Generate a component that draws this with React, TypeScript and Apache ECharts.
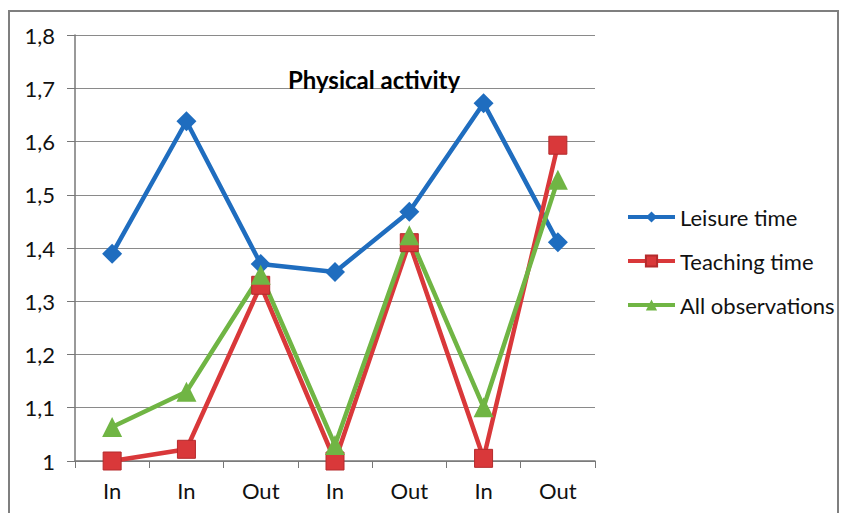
import React, { useEffect, useRef } from "react";
import * as echarts from "echarts";

const categories = ["In", "In", "Out", "In", "Out", "In", "Out"];
const leisureTime = [1.389, 1.638, 1.37, 1.355, 1.468, 1.672, 1.411];
const teachingTime = [1.0, 1.022, 1.33, 1.0, 1.41, 1.005, 1.593];
const allObservations = [1.064, 1.13, 1.35, 1.03, 1.424, 1.101, 1.528];
const seriesNames = ["Leisure time", "Teaching time", "All observations"];

export default function App() {
  const ref = useRef<HTMLDivElement>(null);
  useEffect(() => {
    document.body.style.margin = "0";
    const chart = echarts.init(ref.current!, null, { renderer: "svg" });
    const font = "Lato, 'Open Sans', sans-serif";
    chart.setOption({
      animation: false,
      backgroundColor: "#ffffff",
      title: {
        text: "Physical activity",
        left: 369,
        top: 62,
        textAlign: "center",
        textStyle: { fontFamily: font, fontSize: 24, fontWeight: "bold", color: "#000" },
      },
      graphic: [
        {
          type: "rect",
          shape: { x: 9, y: 11, width: 829, height: 520 },
          style: { fill: "none", stroke: "#7f7f7f", lineWidth: 2 },
          silent: true,
        },
      ],
      legend: {
        orient: "vertical",
        left: 621,
        top: 201,
        itemGap: 22,
        itemWidth: 47,
        itemHeight: 14,
        lineStyle: { width: 4 },
        textStyle: { fontFamily: font, fontSize: 22, color: "#111" },
        data: seriesNames,
      },
      grid: { left: 75, right: 248, top: 35, bottom: 52 },
      xAxis: {
        type: "category",
        data: categories,
        boundaryGap: true,
        axisLine: { lineStyle: { color: "#777", width: 1.5 } },
        axisTick: { show: true, length: 7, lineStyle: { color: "#777" } },
        axisLabel: { fontFamily: font, fontSize: 22, color: "#111", margin: 18 },
      },
      yAxis: {
        type: "value",
        min: 1,
        max: 1.8,
        interval: 0.1,
        axisLine: { show: true, lineStyle: { color: "#777", width: 1.5 } },
        axisTick: { show: true, length: 8, lineStyle: { color: "#777" } },
        splitLine: { lineStyle: { color: "#8a8a8a", width: 1.2 } },
        axisLabel: {
          fontFamily: font,
          fontSize: 22,
          color: "#111",
          margin: 20,
          formatter: (v: number) => (Math.abs(v - 1) < 1e-9 ? "1" : v.toFixed(1).replace(".", ",")),
        },
      },
      series: [
        {
          name: seriesNames[0],
          type: "line",
          data: leisureTime,
          symbol: "diamond",
          symbolSize: 20,
          lineStyle: { width: 4.5, color: "#1F6DBF" },
          itemStyle: { color: "#1F6DBF" },
        },
        {
          name: seriesNames[1],
          type: "line",
          data: teachingTime,
          symbol: "rect",
          symbolSize: 18,
          lineStyle: { width: 4.5, color: "#D9383A" },
          itemStyle: { color: "#D9383A", borderColor: "#b52a2c", borderWidth: 1 },
        },
        {
          name: seriesNames[2],
          type: "line",
          data: allObservations,
          symbol: "triangle",
          symbolSize: 20,
          lineStyle: { width: 4.5, color: "#70B544" },
          itemStyle: { color: "#70B544" },
        },
      ],
    });
    return () => chart.dispose();
  }, []);
  return <div ref={ref} style={{ width: 843, height: 513 }} />;
}
